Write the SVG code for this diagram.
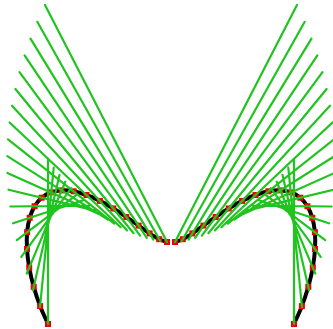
<svg xmlns="http://www.w3.org/2000/svg" xmlns:xlink="http://www.w3.org/1999/xlink" width="333" height="329" viewBox="0 0 333 329">
<style>
.curve{fill:none;stroke:#000;stroke-width:4;stroke-linecap:butt;stroke-linejoin:round}
.pt{fill:#f00000}
.ln{fill:none;stroke:#1fc41f;stroke-width:2.2;stroke-linecap:round}
</style>
<rect width="333" height="329" fill="#fff"/>
<g id="left-half">
<path class="curve" d="M48 324C45.37 318.03 42.48 312.3 40.1 306.1C37.72 299.9 35.52 293.23 33.7 286.8C31.88 280.37 30.32 273.8 29.2 267.5C28.08 261.2 27.35 254.88 27 249C26.65 243.12 26.65 237.4 27.1 232.2C27.55 227 28.45 222.13 29.7 217.8C30.95 213.47 32.6 209.55 34.6 206.2C36.6 202.85 39 200 41.7 197.7C44.4 195.4 47.48 193.62 50.8 192.4C54.12 191.18 57.8 190.58 61.6 190.4C65.4 190.22 69.45 190.53 73.6 191.3C77.75 192.07 82.12 193.4 86.5 195C90.88 196.6 95.43 198.65 99.9 200.9C104.37 203.15 108.9 205.82 113.3 208.5C117.7 211.18 122.08 214.15 126.3 217C130.52 219.85 134.72 222.87 138.6 225.6C142.48 228.33 146.17 231.13 149.6 233.4C153.03 235.67 156.3 237.77 159.2 239.2C162.1 240.63 164.4 241.07 167 242"/>
<g id="left-points" class="pt">
<rect x="45" y="321" width="6" height="6"/>
<rect x="37.1" y="303.1" width="6" height="6"/>
<rect x="30.7" y="283.8" width="6" height="6"/>
<rect x="26.2" y="264.5" width="6" height="6"/>
<rect x="24" y="246" width="6" height="6"/>
<rect x="24.1" y="229.2" width="6" height="6"/>
<rect x="26.7" y="214.8" width="6" height="6"/>
<rect x="31.6" y="203.2" width="6" height="6"/>
<rect x="38.7" y="194.7" width="6" height="6"/>
<rect x="47.8" y="189.4" width="6" height="6"/>
<rect x="58.6" y="187.4" width="6" height="6"/>
<rect x="70.6" y="188.3" width="6" height="6"/>
<rect x="83.5" y="192" width="6" height="6"/>
<rect x="96.9" y="197.9" width="6" height="6"/>
<rect x="110.3" y="205.5" width="6" height="6"/>
<rect x="123.3" y="214" width="6" height="6"/>
<rect x="135.6" y="222.6" width="6" height="6"/>
<rect x="146.6" y="230.4" width="6" height="6"/>
<rect x="156.2" y="236.2" width="6" height="6"/>
<rect x="164" y="239" width="6" height="6"/>
</g>
<path id="left-lines" class="ln" d="M48 324L48 160M40 307.2L53.7 167.6M32.9 290.4L59.5 174.9M26.7 273.6L65.3 181.7M21.3 256.8L71.2 188.2M16.8 240.1L77.2 194.4M13.1 223.3L83.2 200.2M10.4 206.5L89.3 205.6M8.5 189.7L95.4 210.6M7.4 172.9L101.6 215.3M7.3 156.1L107.9 219.6M8 139.3L114.2 223.6M9.6 122.5L120.6 227.2M12 105.7L127.1 230.4M15.4 89L133.6 233.2M19.5 72.2L140.1 235.7M24.6 55.4L146.8 237.8M30.5 38.6L153.4 239.6M37.3 21.8L160.2 241M45 5L167 242"/>
</g>
<use id="right-half" xlink:href="#left-half" href="#left-half" transform="matrix(-1 0 0 1 342 0)"/>
</svg>
